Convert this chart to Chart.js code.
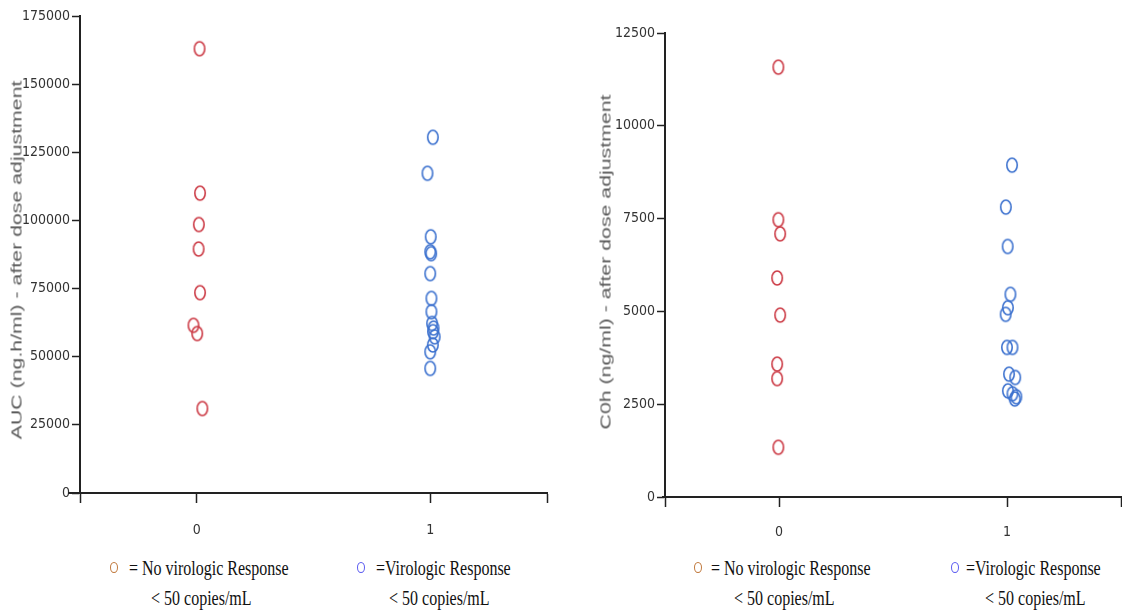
<!DOCTYPE html>
<html>
<head>
<meta charset="utf-8">
<script src="https://cdn.jsdelivr.net/npm/chart.js@4.4.1/dist/chart.umd.min.js"></script>
<style>
body { margin: 0; background: #fff; width: 1122px; height: 614px; overflow: hidden; position: relative; }
.caixa { position: absolute; }
.titulo { position: absolute; width: 0; height: 0; }
.titulo span { position: absolute; left: 0; top: 0; white-space: nowrap; font-family: "Liberation Sans", Arial, sans-serif; font-size: 15px; color: #5a5a5a;
  transform: translate(-50%, -50%) rotate(-90deg) scaleX(1.42); }
.leg { position: absolute; font-family: "Liberation Serif", "Times New Roman", serif; font-size: 20px; line-height: 20px; color: #111;
  white-space: nowrap; transform: scaleX(0.8); transform-origin: left center; }
.marca { position: absolute; width: 6px; height: 9px; border: 1.5px solid; border-radius: 50%; }
</style>
</head>
<body>
<div class="caixa" style="left:0;top:0;width:566px;height:543px"><canvas id="graficoAuc"></canvas></div>
<div class="caixa" style="left:580px;top:0;width:558px;height:547px"><canvas id="graficoC0h"></canvas></div>

<div class="titulo" style="left:16px;top:260px"><span>AUC (ng.h/ml) - after dose adjustment</span></div>
<div class="titulo" style="left:605px;top:262px"><span>C0h (ng/ml) - after dose adjustment</span></div>

<!-- legenda esquerda -->
<div class="marca" style="left:110px;top:562px;border-color:#c0783c"></div>
<div class="leg" style="left:129px;top:558px">= No virologic Response</div>
<div class="leg" style="left:151px;top:588px">&lt; 50 copies/mL</div>
<div class="marca" style="left:357px;top:562px;border-color:#5b5bf0"></div>
<div class="leg" style="left:376px;top:558px">=Virologic Response</div>
<div class="leg" style="left:389px;top:588px">&lt; 50 copies/mL</div>

<!-- legenda direita -->
<div class="marca" style="left:694px;top:562px;border-color:#c0783c"></div>
<div class="leg" style="left:711px;top:558px">= No virologic Response</div>
<div class="leg" style="left:734px;top:588px">&lt; 50 copies/mL</div>
<div class="marca" style="left:951px;top:562px;border-color:#5b5bf0"></div>
<div class="leg" style="left:966px;top:558px">=Virologic Response</div>
<div class="leg" style="left:985px;top:588px">&lt; 50 copies/mL</div>

<script>
// Categorias do eixo X (0 = sem resposta, 1 = com resposta)
const ticksX = [-0.5, 0, 1, 1.5];
const rotulosX = ['', '0', '1', ''];

// Ticks do eixo Y
const ticksAuc = [0, 25000, 50000, 75000, 100000, 125000, 150000, 175000];
const ticksC0h = [0, 2500, 5000, 7500, 10000, 12500];

// AUC - grupo 0 (sem resposta virológica)
const aucGrupo0 = [163000, 110000, 98500, 89500, 73500, 61500, 58500, 31000];
const aucGrupo0Desvio = [0.012, 0.014, 0.009, 0.008, 0.014, -0.014, 0.002, 0.024];

// AUC - grupo 1 (resposta virológica)
const aucGrupo1 = [130500, 117300, 94000, 88500, 87800, 80500, 71400, 66500, 62200, 60500, 59200, 57300, 54300, 51800, 45700];
const aucGrupo1Desvio = [0.011, -0.012, 0.002, 0, 0.004, 0, 0.005, 0.005, 0.008, 0.014, 0.012, 0.019, 0.011, 0, 0];

// C0h - grupo 0
const c0hGrupo0 = [11580, 7470, 7090, 5900, 4900, 3580, 3190, 1340];
const c0hGrupo0Desvio = [-0.003, -0.003, 0.005, -0.008, 0.005, -0.008, -0.008, -0.003];

// C0h - grupo 1
const c0hGrupo1 = [8940, 7810, 6750, 5460, 5100, 4920, 4030, 4030, 3310, 3220, 2860, 2780, 2700, 2640];
const c0hGrupo1Desvio = [0.022, -0.005, 0.003, 0.015, 0.004, -0.006, 0, 0.024, 0.009, 0.036, 0.004, 0.024, 0.041, 0.034];

const corVermelha = '#cc3b46';
const corAzul = '#3d72cf';
const fonteTicks = { family: '"Liberation Sans Narrow", "Arial Narrow", "DejaVu Sans Condensed", sans-serif', size: 14 };

// Marcador em forma de elipse (os círculos da figura são um pouco alongados)
function criarElipse(cor) {
    const c = document.createElement('canvas');
    c.width = 14;
    c.height = 18;
    const ctx = c.getContext('2d');
    ctx.strokeStyle = cor;
    ctx.lineWidth = 1.6;
    ctx.beginPath();
    ctx.ellipse(7, 9, 5.2, 7, 0, 0, Math.PI * 2);
    ctx.stroke();
    return c;
}

function montarPontos(valores, desvios, grupo) {
    return valores.map((v, i) => ({ x: grupo + desvios[i], y: v }));
}

// Linha do eixo X que passa um pouco para a esquerda do eixo Y
const linhaEixoX = {
    id: 'linhaEixoX',
    afterDraw(chart, args, opts) {
        const { ctx, chartArea } = chart;
        ctx.save();
        ctx.strokeStyle = '#222';
        ctx.lineWidth = 2;
        ctx.beginPath();
        ctx.moveTo(chartArea.left - opts.extensao, chartArea.bottom);
        ctx.lineTo(chartArea.right, chartArea.bottom);
        ctx.stroke();
        ctx.restore();
    }
};

// o Chart.js reserva à direita o mesmo espaço que o padding dos ticks do eixo X,
// por isso o canvas é mais largo e a área do gráfico termina onde deve
function criarGrafico(id, grupo0, grupo1, ticksY, larguraY, topo, extensao, paddingX) {
    const ctx = document.getElementById(id).getContext('2d');
    return new Chart(ctx, {
        type: 'scatter',
        data: {
            datasets: [
                { data: grupo0, pointStyle: criarElipse(corVermelha), pointRadius: 7 },
                { data: grupo1, pointStyle: criarElipse(corAzul), pointRadius: 7 }
            ]
        },
        options: {
            responsive: true,
            maintainAspectRatio: false,
            animation: false,
            layout: { padding: { top: topo, right: 0, left: 0, bottom: 0 } },
            plugins: {
                legend: { display: false },
                tooltip: { enabled: false },
                linhaEixoX: { extensao: extensao }
            },
            scales: {
                x: {
                    type: 'linear',
                    min: -0.5,
                    max: 1.5,
                    afterBuildTicks: scale => { scale.ticks = ticksX.map(v => ({ value: v })); },
                    afterFit: scale => { scale.height = 50; },
                    ticks: {
                        callback: (v, i) => rotulosX[i],
                        autoSkip: false,
                        maxRotation: 0,
                        padding: paddingX,
                        color: '#333',
                        font: fonteTicks
                    },
                    grid: { drawOnChartArea: false, tickLength: 10, tickColor: '#222', tickWidth: 1.5 },
                    border: { color: '#222', width: 2 }
                },
                y: {
                    min: ticksY[0],
                    max: ticksY[ticksY.length - 1],
                    afterBuildTicks: scale => { scale.ticks = ticksY.map(v => ({ value: v })); },
                    afterFit: scale => { scale.width = larguraY; },
                    ticks: {
                        callback: v => String(v),
                        padding: 2,
                        color: '#333',
                        font: fonteTicks
                    },
                    grid: { drawOnChartArea: false, tickLength: 8, tickColor: '#222', tickWidth: 1.5 },
                    border: { color: '#222', width: 2 }
                }
            }
        },
        plugins: [linhaEixoX]
    });
}

criarGrafico('graficoAuc',
    montarPontos(aucGrupo0, aucGrupo0Desvio, 0),
    montarPontos(aucGrupo1, aucGrupo1Desvio, 1),
    ticksAuc, 80, 16, 12, 19);

criarGrafico('graficoC0h',
    montarPontos(c0hGrupo0, c0hGrupo0Desvio, 0),
    montarPontos(c0hGrupo1, c0hGrupo1Desvio, 1),
    ticksC0h, 85, 33, 3, 17);
</script>
</body>
</html>
